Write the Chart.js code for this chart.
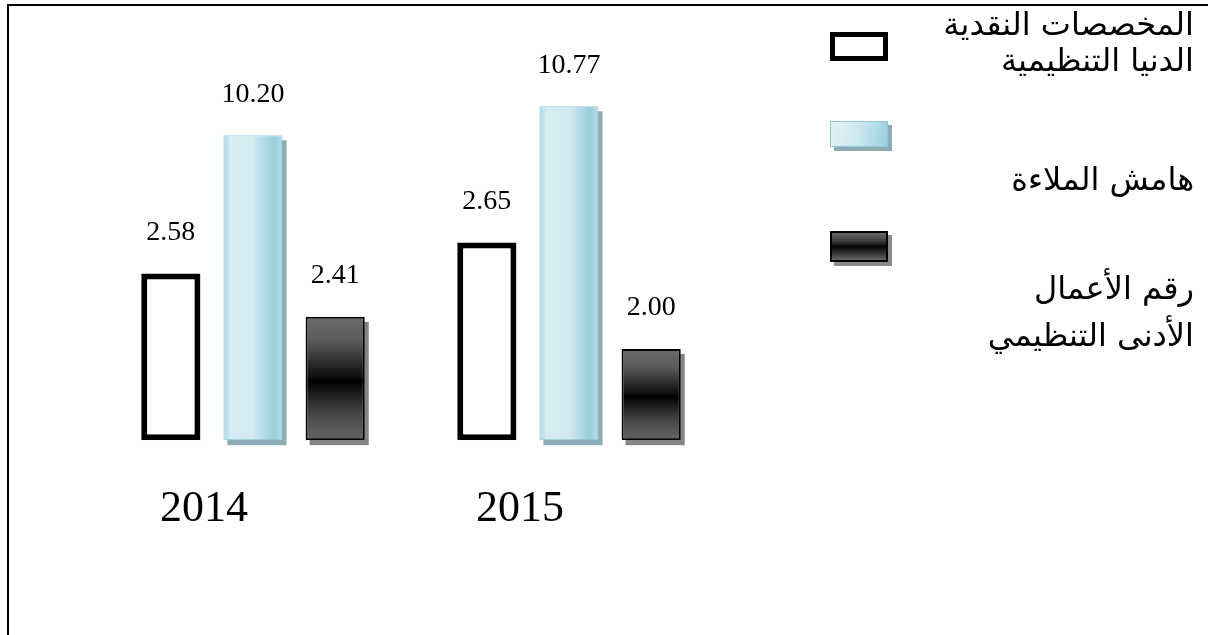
<!DOCTYPE html>
<html lang="ar">
<head>
    <meta charset="UTF-8">
    <title>المخصصات النقدية وهامش الملاءة</title>
    <style>
        html, body {
            margin: 0;
            padding: 0;
            background: #fff;
        }

        #wrap {
            position: relative;
            width: 1208px;
            height: 635px;
            overflow: hidden;
        }

        #frame {
            position: absolute;
            left: 7px;
            top: 4px;
            right: -10px;
            bottom: -10px;
            border-top: 2px solid #000;
            border-left: 2px solid #000;
        }

        canvas {
            position: absolute;
            left: 0;
            top: 0;
        }

        .sw {
            position: absolute;
            left: 830px;
            width: 58px;
            box-sizing: border-box;
        }

        .sw1 {
            top: 32px;
            height: 29px;
            border: 5px solid #000;
            background: #fff;
        }

        .sw2 {
            top: 121px;
            height: 26px;
            border: 1px solid #8ecbd9;
            background: linear-gradient(100deg, #e2f2f6 0%, #cfe9f0 45%, #9ad1de 100%);
            box-shadow: 4px 4px 0 #8eaab2;
        }

        .sw3 {
            top: 231px;
            height: 31px;
            border: 2px solid #000;
            background: linear-gradient(180deg, #6a6a6a 0%, #3a3a3a 30%, #050505 50%, #2a2a2a 70%, #666 100%);
            box-shadow: 4px 4px 0 #8a8a8a;
        }

        .lg {
            position: absolute;
            right: 14px;
            direction: rtl;
            white-space: nowrap;
            font-family: "DejaVu Sans", sans-serif;
            font-size: 32px;
            line-height: 35px;
            color: #000;
        }
    </style>
</head>
<body>
<div id="wrap">
    <canvas id="chart" width="1208" height="635"></canvas>
    <div id="frame"></div>

    <div class="sw sw1"></div>
    <div class="lg" style="top: 7px;">المخصصات النقدية</div>
    <div class="lg" style="top: 43px;">الدنيا التنظيمية</div>

    <div class="sw sw2"></div>
    <div class="lg" style="top: 162px;">هامش الملاءة</div>

    <div class="sw sw3"></div>
    <div class="lg" style="top: 271px;">رقم الأعمال</div>
    <div class="lg" style="top: 318px;">الأدنى التنظيمي</div>
</div>

<script src="https://cdn.jsdelivr.net/npm/chart.js"></script>
<script>
    const years = ['2014', '2015'];
    const cashReserves = [2.58, 2.65];      // المخصصات النقدية الدنيا التنظيمية
    const solvencyMargin = [10.20, 10.77];  // هامش الملاءة
    const minTurnover = [2.41, 2.00];       // رقم الأعمال الأدنى التنظيمي

    // each series sits on its own hidden scale, as in the original drawing
    const cashRange = [2.205, 3.108];
    const solvRange = [4.225, 12.087];
    const turnRange = [0.834, 5.959];

    const ctx = document.getElementById('chart').getContext('2d');

    function barOf(c) {
        const el = c.chart.getDatasetMeta(c.datasetIndex).data[c.dataIndex];
        if (!el || el.width == null || isNaN(el.x)) return null;
        return el;
    }

    function blueFill(c) {
        const el = barOf(c);
        if (!el) return '#c4e5ee';
        const g = ctx.createLinearGradient(el.x - el.width / 2, 0, el.x + el.width / 2, 0);
        g.addColorStop(0, '#a3d5e1');
        g.addColorStop(0.12, '#d7edf3');
        g.addColorStop(0.5, '#d3eaf1');
        g.addColorStop(0.85, '#97cfdc');
        g.addColorStop(1, '#b8dee8');
        return g;
    }

    function darkFill(c) {
        const el = barOf(c);
        if (!el) return '#333';
        const g = ctx.createLinearGradient(0, el.y, 0, el.base);
        g.addColorStop(0, '#6b6b6b');
        g.addColorStop(0.2, '#5a5a5a');
        g.addColorStop(0.49, '#0d0d0d');
        g.addColorStop(0.52, '#000');
        g.addColorStop(0.8, '#4a4a4a');
        g.addColorStop(1, '#646464');
        return g;
    }

    // flat drop shadow behind the coloured bars
    const shadows = {
        id: 'shadows',
        beforeDatasetsDraw(chart) {
            const c = chart.ctx;
            c.save();
            [[1, '#8eaab2'], [2, '#858585']].forEach(([i, col]) => {
                chart.getDatasetMeta(i).data.forEach(el => {
                    const p = el.getProps(['x', 'y', 'base', 'width'], true);
                    c.fillStyle = col;
                    c.fillRect(p.x - p.width / 2 + 4, p.y + 5, p.width, p.base - p.y);
                });
            });
            c.restore();
        }
    };

    // value above each bar
    const valueLabels = {
        id: 'valueLabels',
        afterDatasetsDraw(chart) {
            const c = chart.ctx;
            c.save();
            c.font = '28px "Liberation Serif", serif';
            c.fillStyle = '#000';
            c.textAlign = 'center';
            c.textBaseline = 'middle';
            chart.data.datasets.forEach((ds, i) => {
                chart.getDatasetMeta(i).data.forEach((el, j) => {
                    c.fillText(ds.data[j].toFixed(2), el.x, el.y - 41);
                });
            });
            c.restore();
        }
    };

    const chart = new Chart(ctx, {
        type: 'bar',
        data: {
            labels: years,
            datasets: [{
                label: 'المخصصات النقدية الدنيا التنظيمية',
                data: cashReserves,
                yAxisID: 'yCash',
                base: cashRange[0],
                backgroundColor: '#fff',
                borderColor: '#000',
                borderWidth: 6,
                borderSkipped: false
            }, {
                label: 'هامش الملاءة',
                data: solvencyMargin,
                yAxisID: 'ySolv',
                base: solvRange[0],
                backgroundColor: blueFill,
                borderColor: '#92cddb',
                borderWidth: 1,
                borderSkipped: false
            }, {
                label: 'رقم الأعمال الأدنى التنظيمي',
                data: minTurnover,
                yAxisID: 'yTurn',
                base: turnRange[0],
                backgroundColor: darkFill,
                borderColor: '#000',
                borderWidth: 2,
                borderSkipped: false
            }]
        },
        options: {
            responsive: false,
            animation: false,
            devicePixelRatio: 1,
            categoryPercentage: 0.78,
            barPercentage: 0.72,
            layout: {
                padding: { left: 95, right: 481, top: 39, bottom: 56 }
            },
            plugins: {
                legend: { display: false },
                tooltip: { enabled: false }
            },
            scales: {
                x: {
                    grid: { display: false, drawTicks: false },
                    border: { display: false },
                    ticks: {
                        color: '#000',
                        font: { family: '"Liberation Serif", serif', size: 44 },
                        padding: 43,
                        labelOffset: -49
                    }
                },
                yCash: { display: false, min: cashRange[0], max: cashRange[1] },
                ySolv: { display: false, min: solvRange[0], max: solvRange[1] },
                yTurn: { display: false, min: turnRange[0], max: turnRange[1] }
            }
        },
        plugins: [shadows, valueLabels]
    });

    chart.update();
</script>
</body>
</html>
